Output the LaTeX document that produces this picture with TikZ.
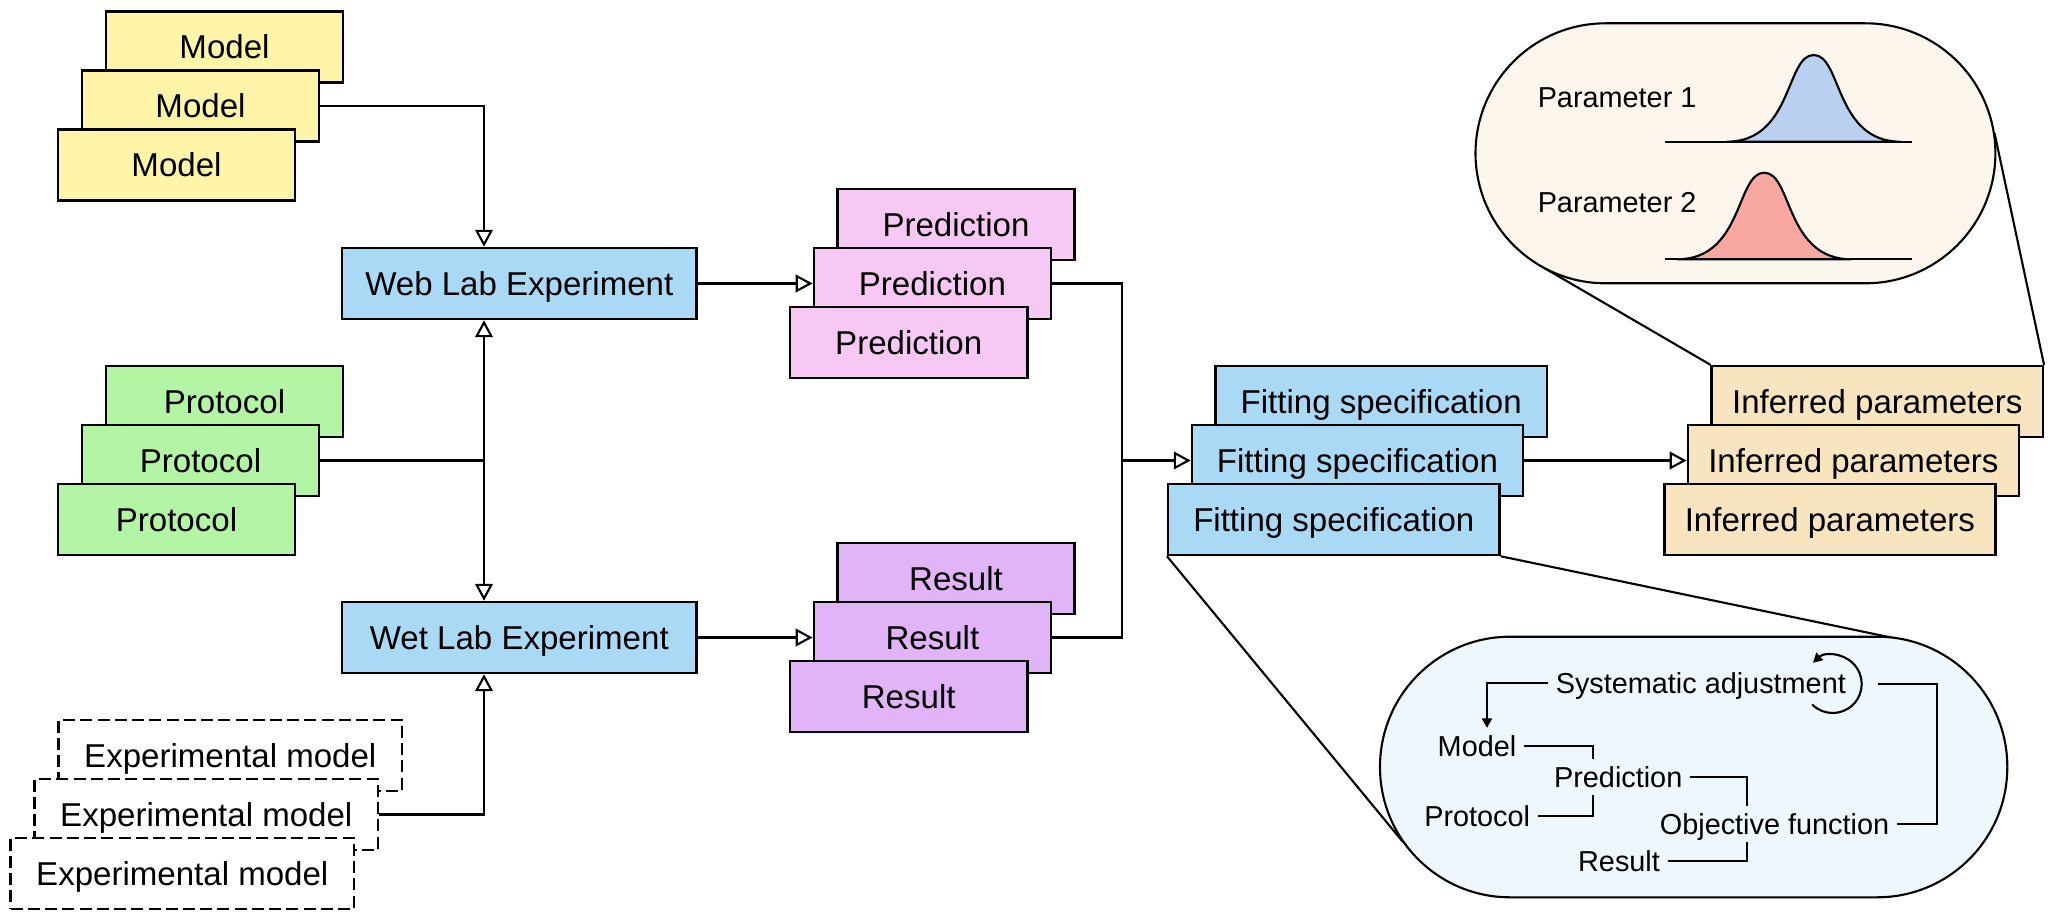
\documentclass[tikz,border=0pt]{standalone}
\usepackage{fontspec}
\setmainfont{Liberation Sans}
\usetikzlibrary{arrows.meta}
\definecolor{modelyellow}{HTML}{FFF5A8}
\definecolor{protogreen}{HTML}{B4F5A5}
\definecolor{predpink}{HTML}{F8C8F4}
\definecolor{resultpurple}{HTML}{E0B4F6}
\definecolor{labblue}{HTML}{AAD9F5}
\definecolor{paramtan}{HTML}{F8E4BF}
\definecolor{capcream}{HTML}{FDF6EC}
\definecolor{capblue}{HTML}{EEF7FC}
\definecolor{gaussblue}{HTML}{BAD0F0}
\definecolor{gaussred}{HTML}{F8A8A0}
\tikzset{
  box/.style={draw, line width=0.7pt, minimum height=0.71cm, inner sep=0pt,
    text height=6.8pt, text depth=0pt, font=\fontsize{9.4}{11}\selectfont},
  dashbox/.style={box, fill=white, dash pattern=on 3.4pt off 1.5pt},
  itext/.style={inner xsep=2pt, inner ysep=2pt, text height=5.9pt, text depth=0pt,
    font=\fontsize{8.2}{10}\selectfont},
  link/.style={line width=0.6pt},
  flow/.style={link, -{Triangle[open,length=4.8pt,width=5pt]}},
  smallflow/.style={link, -{Triangle[length=2.7pt,width=2.8pt]}}
}

\begin{document}
\begin{tikzpicture}[x=0.01cm, y=-0.01cm]
  \useasboundingbox (0,0) rectangle (2066,921);

  \node[box, fill=modelyellow, minimum width=2.37cm] (model1) at (224.5,47) {Model};
  \node[box, fill=modelyellow, minimum width=2.37cm] (model2) at (200.5,106) {Model};
  \node[box, fill=modelyellow, minimum width=2.37cm] (model3) at (176.5,165) {Model};

  \node[box, fill=protogreen, minimum width=2.37cm] (protocol1) at (224.5,401.5) {Protocol};
  \node[box, fill=protogreen, minimum width=2.37cm] (protocol2) at (200.5,460.5) {Protocol};
  \node[box, fill=protogreen, minimum width=2.37cm] (protocol3) at (176.5,519.5) {Protocol};

  \node[dashbox, minimum width=3.43cm] (expmodel1) at (230.3,755.5) {Experimental model};
  \node[dashbox, minimum width=3.43cm] (expmodel2) at (206.3,814.5) {Experimental model};
  \node[dashbox, minimum width=3.43cm] (expmodel3) at (182.3,873.5) {Experimental model};

  \node[box, fill=labblue, minimum width=3.54cm] (webexp) at (519.3,283.5) {Web Lab Experiment};
  \node[box, fill=labblue, minimum width=3.54cm] (wetexp) at (519.3,637.5) {Wet Lab Experiment};

  \node[box, fill=predpink, minimum width=2.37cm] (prediction1) at (956,224.5) {Prediction};
  \node[box, fill=predpink, minimum width=2.37cm] (prediction2) at (932.4,283.5) {Prediction};
  \node[box, fill=predpink, minimum width=2.37cm] (prediction3) at (908.7,342.5) {Prediction};

  \node[box, fill=resultpurple, minimum width=2.37cm] (result1) at (956,578.5) {Result};
  \node[box, fill=resultpurple, minimum width=2.37cm] (result2) at (932.4,637.5) {Result};
  \node[box, fill=resultpurple, minimum width=2.37cm] (result3) at (908.7,696.5) {Result};

  \node[box, fill=labblue, minimum width=3.31cm] (fitting1) at (1381.2,401.5) {Fitting specification};
  \node[box, fill=labblue, minimum width=3.31cm] (fitting2) at (1357.5,460.5) {Fitting specification};
  \node[box, fill=labblue, minimum width=3.31cm] (fitting3) at (1333.8,519.5) {Fitting specification};

  \node[box, fill=paramtan, minimum width=3.31cm] (inferred1) at (1877.2,401.5) {Inferred parameters};
  \node[box, fill=paramtan, minimum width=3.31cm] (inferred2) at (1853.4,460.5) {Inferred parameters};
  \node[box, fill=paramtan, minimum width=3.31cm] (inferred3) at (1829.9,519.5) {Inferred parameters};

  \coordinate (bus) at (484,460.5);
  \coordinate (merge) at (1121.7,460.5);
  \draw[flow] (model2.east) -| (webexp.north -| bus);
  \draw[link] (protocol2.east) -- (bus);
  \draw[flow] (bus) -- (webexp.south -| bus);
  \draw[flow] (bus) -- (wetexp.north -| bus);
  \draw[flow] (expmodel2.east) -| (wetexp.south -| bus);
  \draw[flow] (webexp.east) -- (prediction2.west);
  \draw[flow] (wetexp.east) -- (result2.west);
  \draw[link] (prediction2.east) -| (merge) |- (result2.east);
  \draw[flow] (merge) -- (fitting2.west);
  \draw[flow] (fitting2.east) -- (inferred2.west);

  \coordinate (topcap sw) at (1542.5,267);
  \coordinate (topcap e) at (1994.5,133);
  \coordinate (lowcap w) at (1403,842);
  \coordinate (lowcap ne) at (1895,638.3);
  \draw[link] (inferred1.north west) -- (topcap sw);
  \draw[link] (inferred1.north east) -- (topcap e);
  \draw[link] (fitting3.south west) -- (lowcap w);
  \draw[link] (fitting3.south east) -- (lowcap ne);

  \draw[link, fill=capcream, rounded corners=1.3cm] (1475.5,23.3) rectangle (1995.4,283.3);
  \draw[link, fill=capblue, rounded corners=1.3cm] (1380,636.7) rectangle (2007.3,897.3);

  \node[itext, anchor=west] (param1) at (1530,96.7) {Parameter 1};
  \node[itext, anchor=west] (param2) at (1530,201.7) {Parameter 2};
  \filldraw[link, fill=gaussblue] (1726.7,141.7) .. controls (1792.7,141.7) and (1785.7,55) .. (1813.7,55)
    .. controls (1841.7,55) and (1834.7,141.7) .. (1900.7,141.7) -- cycle;
  \filldraw[link, fill=gaussred] (1677.2,259.3) .. controls (1743.2,259.3) and (1736.2,172.7) .. (1764.2,172.7)
    .. controls (1792.2,172.7) and (1785.2,259.3) .. (1851.2,259.3) -- cycle;
  \draw[link] (1665,141.7) -- (1912,141.7);
  \draw[link] (1665,259.3) -- (1912,259.3);

  \node[itext] (sysadj) at (1700.8,683.3) {Systematic adjustment};
  \node[itext] (imodel) at (1477,746) {Model};
  \node[itext] (ipred) at (1618.2,776.7) {Prediction};
  \node[itext] (iprot) at (1477.2,816) {Protocol};
  \node[itext] (iobj) at (1774.5,824) {Objective function};
  \node[itext] (iresult) at (1619,860.7) {Result};
  \coordinate (loop) at (1832.7,684);

  \draw[smallflow] (sysadj.west) -| ([xshift=0.1cm]imodel.north);
  \draw[link] (imodel.east) -| ([xshift=-0.25cm]ipred.north);
  \draw[link] (iprot.east) -| ([xshift=-0.25cm]ipred.south);
  \draw[link] (ipred.east) -| ([xshift=-0.275cm]iobj.north);
  \draw[link] (iresult.east) -| ([xshift=-0.275cm]iobj.south);
  \draw[link] (iobj.east) -- ++(40,0) |- ([xshift=0.45cm]loop);
  \draw[smallflow] ([shift={(135:29)}]loop) arc[start angle=135, end angle=-133, radius=29];
\end{tikzpicture}
\end{document}
